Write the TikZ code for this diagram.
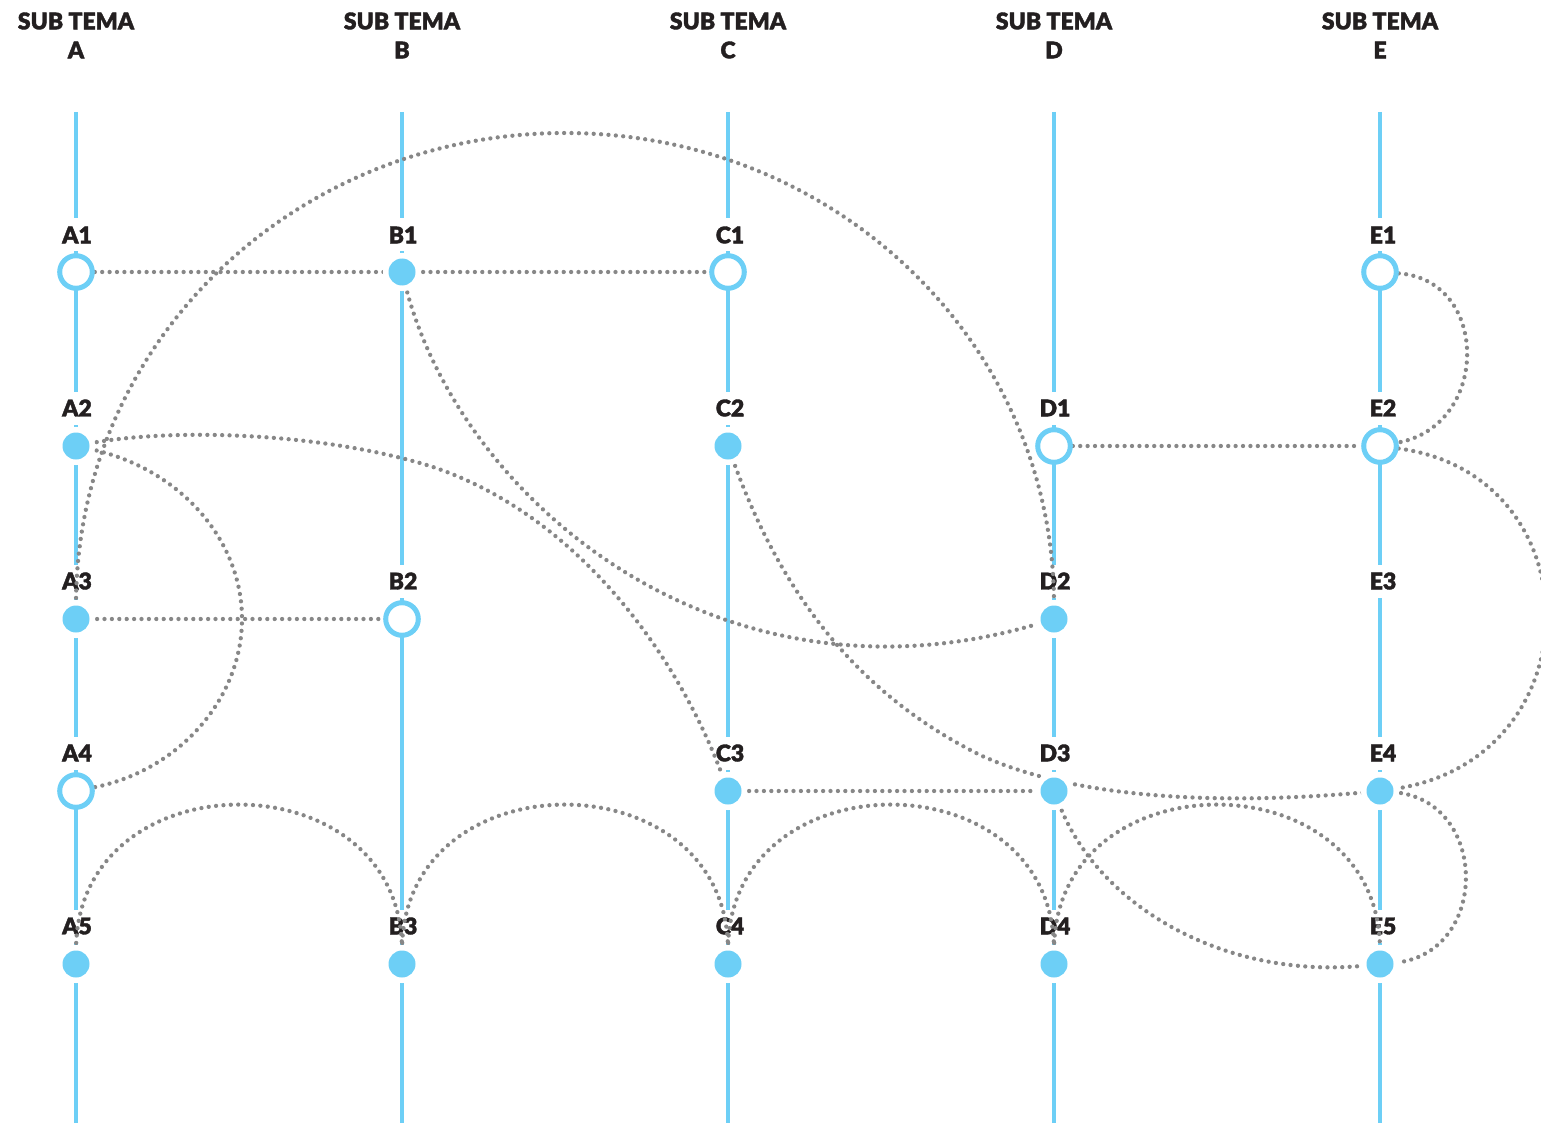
\documentclass[tikz,border=0pt]{standalone}
\usepackage{fontspec}
\setmainfont{Lato}[BoldFont={Lato Black},BoldFeatures={FakeBold=1.6}]
\definecolor{lineblue}{HTML}{6DCFF6}
\definecolor{dotgray}{HTML}{878787}
\definecolor{txt}{HTML}{231F20}
\pgfdeclarelayer{bg}
\pgfdeclarelayer{labs}
\pgfdeclarelayer{links}
\pgfsetlayers{bg,labs,links,main}
\begin{document}
\begin{tikzpicture}[x=1pt,y=-1pt,
  vline/.style={draw=lineblue, line width=3.5pt},
  lab/.style={fill=white, text=txt, font=\fontsize{23}{26}\selectfont\bfseries, inner sep=0pt, minimum height=33pt, minimum width=36pt},
  head/.style={text=txt, font=\fontsize{23}{26}\selectfont\bfseries, inner sep=0pt},
  hollow/.style={circle, draw=lineblue, line width=5pt, fill=white, minimum size=32.6pt, inner sep=0pt},
  fillnode/.style={circle, fill=lineblue, minimum size=27pt, inner sep=0pt, preaction={draw=white, line width=11pt}},
  link/.style={draw=dotgray, line width=4.3pt, line cap=round, dash pattern=on 0pt off 7.4pt}
]
\useasboundingbox (0,0) rectangle (1541,1123);

% headers
\foreach \c/\x in {A/76,B/402,C/728,D/1054,E/1380}{
  \node[head] (H\c) at (\x,21) {SUB TEMA};
  \node[head] (L\c) at (\x,50) {\c};
}

% column lines
\begin{pgfonlayer}{bg}
\foreach \c/\x in {A/76,B/402,C/728,D/1054,E/1380}{
  \coordinate (\c top) at (\x,112);
  \coordinate (\c bot) at (\x,1123);
  \draw[vline] (\c top) -- (\c bot);
}
\end{pgfonlayer}

% nodes
\node[hollow]   (A1) at (76,272) {};
\node[fillnode] (B1) at (402,272) {};
\node[hollow]   (C1) at (728,272) {};
\node[hollow]   (E1) at (1380,272) {};
\node[fillnode] (A2) at (76,446) {};
\node[fillnode] (C2) at (728,446) {};
\node[hollow]   (D1) at (1054,446) {};
\node[hollow]   (E2) at (1380,446) {};
\node[fillnode] (A3) at (76,619) {};
\node[hollow]   (B2) at (402,619) {};
\node[fillnode] (D2) at (1054,619) {};
\node[hollow]   (A4) at (76,791) {};
\node[fillnode] (C3) at (728,791) {};
\node[fillnode] (D3) at (1054,791) {};
\node[fillnode] (E4) at (1380,791) {};
\node[fillnode] (A5) at (76,964) {};
\node[fillnode] (B3) at (402,964) {};
\node[fillnode] (C4) at (728,964) {};
\node[fillnode] (D4) at (1054,964) {};
\node[fillnode] (E5) at (1380,964) {};

% labels
\begin{pgfonlayer}{labs}
\foreach \n/\x/\y in {A1/77/235,B1/403/235,C1/730/235,E1/1383/235,
  A2/77/408,C2/730/408,D1/1055/408,E2/1383/408,
  A3/77/581,B2/403/581,D2/1055/581,E3/1383/581,
  A4/77/753,C3/730/753,D3/1055/753,E4/1383/753,
  A5/77/926,B3/403/926,C4/730/926,D4/1055/926,E5/1383/926}{
  \node[lab] (T\n) at (\x,\y) {\n};
}
\end{pgfonlayer}

% connectors
\begin{pgfonlayer}{links}
\draw[link] (A1) -- (B1);
\draw[link] (B1) -- (C1);
\draw[link] (A3) -- (B2);
\draw[link] (D1) -- (E2);
\draw[link] (C3) -- (D3);
% big arc A3 - D2
\draw[link] (A3) .. controls (76,342) and (295,133) .. (565,133)
  .. controls (835,133) and (1054,342) .. (D2);
% B1 - D2
\draw[link] (B1) .. controls (460,500) and (720,720) .. (D2);
% A2 - C3
\draw[link] (A2) .. controls (170,428) and (320,432) .. (430,466)
  .. controls (580,515) and (680,660) .. (C3);
% A2 - A4
\draw[link] (A2) .. controls (180,468) and (242,540) .. (242,619)
  .. controls (242,698) and (180,770) .. (A4);
% C2 - E4
\draw[link] (C2) .. controls (790,620) and (880,705) .. (980,755)
  .. controls (1100,810) and (1280,800) .. (E4);
% right arcs
\draw[link] (E1) .. controls (1490,280) and (1490,425) .. (E2);
\draw[link] (E2) .. controls (1596,475) and (1596,760) .. (E4);
\draw[link] (E4) .. controls (1490,800) and (1490,955) .. (E5);
% bottom arcs
\draw[link] (A5) .. controls (76,756) and (402,756) .. (B3);
\draw[link] (B3) .. controls (402,756) and (728,756) .. (C4);
\draw[link] (C4) .. controls (728,756) and (1054,756) .. (D4);
\draw[link] (D4) .. controls (1054,756) and (1380,756) .. (E5);
\draw[link] (D3) .. controls (1100,910) and (1230,980) .. (E5);
\end{pgfonlayer}
\end{tikzpicture}
\end{document}
